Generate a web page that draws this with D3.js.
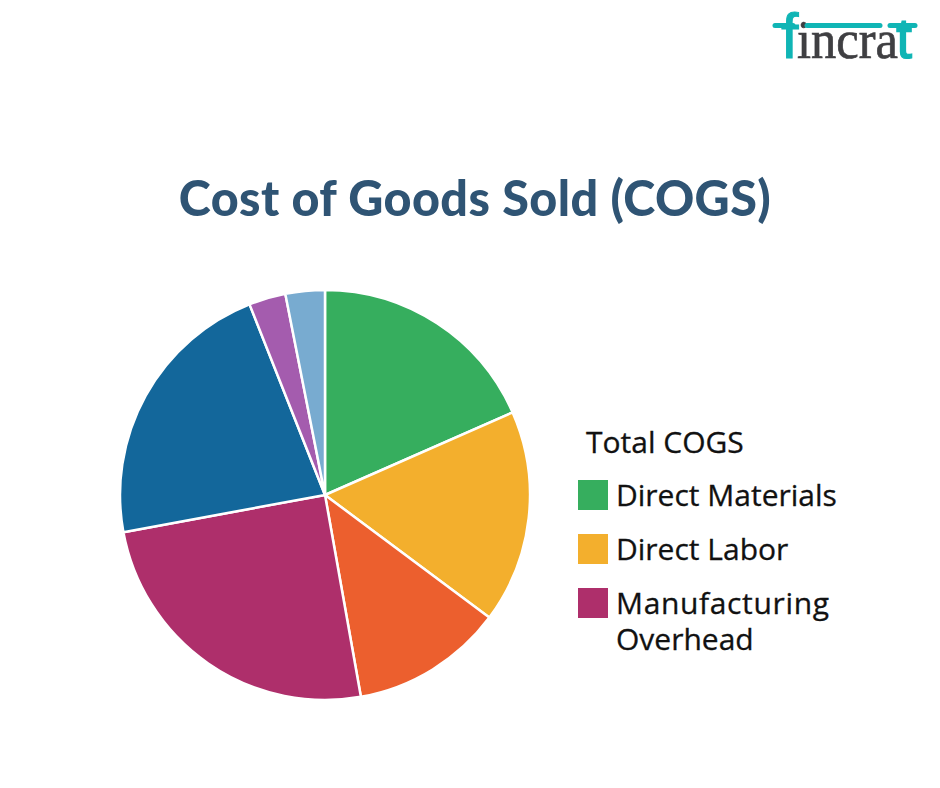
<!DOCTYPE html>
<html>
<head>
<meta charset="utf-8">
<script src="https://cdn.jsdelivr.net/npm/d3@7/dist/d3.min.js"></script>
<style>
  html,body{margin:0;padding:0;background:#fff}
  svg{display:block}
  .title{font-family:Lato,sans-serif;font-weight:900;font-size:48.5px;letter-spacing:0.4px;fill:#2f5474}
  .legend text{font-family:"Open Sans",sans-serif;font-size:30px;fill:#111;stroke:#111;stroke-width:0.3px}
</style>
</head>
<body>
<svg id="chart" width="940" height="788"></svg>
<script>
const sliceNames = ['Direct Materials','Direct Labor','Other Labor','Manufacturing Overhead','Overhead Other','Small A','Small B']
const sliceValues = [18.4, 16.8, 12.0, 24.9, 21.9, 2.9, 3.1]
const sliceColors = ['#36ae5e','#f3af2d','#ec5f2e','#ae2f6b','#13679b','#a45cae','#78abd0']

const legendTitle = 'Total COGS'
const legendLabels = [['Direct Materials'],['Direct Labor'],['Manufacturing','Overhead']]
const legendColors = ['#36ae5e','#f3af2d','#ae2f6b']

const svg = d3.select('#chart')

svg.append('text').attr('class','title')
  .attr('x', 475).attr('y', 216).attr('text-anchor','middle')
  .text('Cost of Goods Sold (COGS)')

// Pie
const CX = 325, CY = 495, R = 205
const pie = d3.pie().sort(null).value(d => d)
const arc = d3.arc().innerRadius(0).outerRadius(R)
svg.append('g').attr('transform', `translate(${CX},${CY})`)
  .selectAll('path').data(pie(sliceValues)).enter().append('path')
  .attr('d', arc)
  .attr('fill', (d,i) => sliceColors[i])
  .attr('stroke', '#fff').attr('stroke-width', 2.5).attr('stroke-linejoin','round')
  .append('title').text((d,i) => sliceNames[i])

// Legend
const legend = svg.append('g').attr('class','legend')
legend.append('text').attr('x', 586).attr('y', 453).text(legendTitle)
const rowY = [480, 534, 588]
legendLabels.forEach((lines,i) => {
  legend.append('rect').attr('x', 578).attr('y', rowY[i])
    .attr('width', 30).attr('height', 30).attr('fill', legendColors[i])
  lines.forEach((t,k) => {
    const label = legend.append('text').attr('x', 616).attr('y', rowY[i] + 26 + k*36).text(t)
    if(t==='Manufacturing') label.attr('textLength', 213)
  })
})

// Logo: teal f and t, grey middle letters, bar broken around the i dot
const logo = svg.append('g').attr('class','logo')
const TEAL = '#10b5b5', GREY = '#3f3f42'
const logoText = (t,x,size,fill,family) => logo.append('text')
  .attr('x', x).attr('y', 58).attr('font-size', size).attr('fill', fill)
  .attr('font-family', family).text(t)
logoText('f', 781, 63, TEAL, '"Liberation Sans"').attr('stroke', TEAL).attr('stroke-width', 1)
logoText('incra', 797, 54, GREY, '"Liberation Serif"')
  .attr('textLength', 101).attr('lengthAdjust','spacingAndGlyphs')
  .attr('stroke', GREY).attr('stroke-width', 0.7)
logoText('t', 896, 58, TEAL, '"Liberation Sans"').attr('stroke', TEAL).attr('stroke-width', 1.2)
const bars = [[775,793],[807,880],[890,915]]
logo.selectAll('line').data(bars).enter().append('line')
  .attr('x1', d => d[0]).attr('x2', d => d[1]).attr('y1', 25.5).attr('y2', 25.5)
  .attr('stroke', TEAL).attr('stroke-width', 5).attr('stroke-linecap','round')
</script>
</body>
</html>
